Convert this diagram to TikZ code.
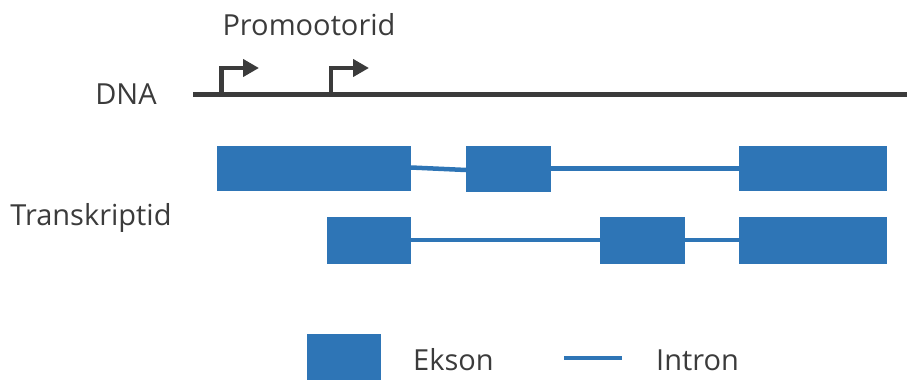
\documentclass[tikz,border=0pt]{standalone}
\usepackage{fontspec}
\setmainfont{Open Sans}
\usetikzlibrary{arrows.meta}
\definecolor{exonblue}{HTML}{2E75B6}
\definecolor{inkgray}{HTML}{3B3B3B}
\begin{document}
\begin{tikzpicture}[x=1pt,y=-1pt,
  exon/.style={fill=exonblue,draw=none},
  intron/.style={draw=exonblue,line width=4.5pt},
  dnaline/.style={draw=inkgray,line width=5pt},
  promo/.style={draw=inkgray,line width=4.5pt,-{Triangle[length=16pt,width=17pt]}},
  lbl/.style={text=inkgray,font=\fontsize{29}{34}\selectfont,inner sep=0pt,anchor=base}]
\useasboundingbox (0,0) rectangle (907,380);
% labels
\node[lbl] (ptxt) at (309,35) {Promootorid};
\node[lbl] (dnatxt) at (126,104) {DNA};
\node[lbl] (trtxt) at (91,225) {Transkriptid};
% DNA strand and promoters
\coordinate (dnaL) at (193,94.5);
\coordinate (dnaR) at (907,94.5);
\draw[dnaline] (dnaL) -- (dnaR);
\coordinate (p1) at (221.5,97);
\coordinate (p1t) at (259,68);
\coordinate (p2) at (331,97);
\coordinate (p2t) at (369,68);
\draw[promo] (p1) |- (p1t);
\draw[promo] (p2) |- (p2t);
% transcript 1
\path[exon] (217,146) rectangle (411,191);
\path[exon] (466,146) rectangle (551,192);
\path[exon] (739,146) rectangle (887,191);
\coordinate (a1) at (411,167.5);
\coordinate (b0) at (466,170);
\coordinate (b1) at (551,168.5);
\coordinate (c0) at (739,168.5);
\draw[intron] (a1) -- (b0);
\draw[intron] (b1) -- (c0);
% transcript 2
\path[exon] (327,217) rectangle (411,264);
\path[exon] (600,217) rectangle (685,264);
\path[exon] (739,217) rectangle (887,264);
\coordinate (d1) at (411,240);
\coordinate (e0) at (600,240);
\coordinate (e1) at (685,240);
\coordinate (f0) at (739,240);
\draw[intron] (d1) -- (e0);
\draw[intron] (e1) -- (f0);
% legend
\path[exon] (307,334) rectangle (381,380);
\node[lbl,anchor=base west] (ekson) at (413,370) {Ekson};
\coordinate (lg0) at (564,358);
\coordinate (lg1) at (622,358);
\draw[intron] (lg0) -- (lg1);
\node[lbl,anchor=base west] (intron) at (656,370) {Intron};
\end{tikzpicture}
\end{document}
